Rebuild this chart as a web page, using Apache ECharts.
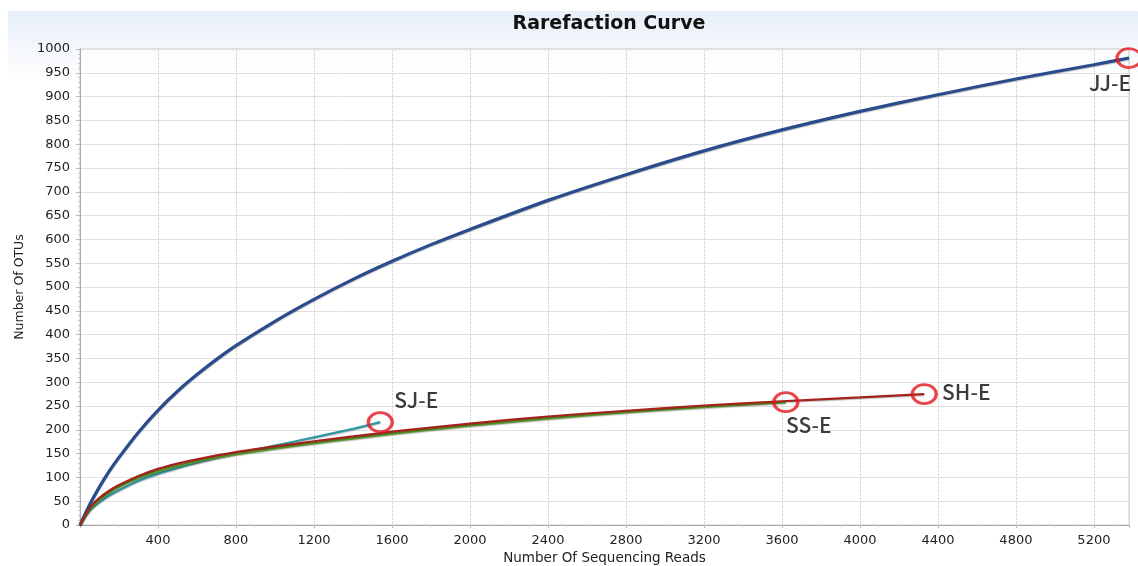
<!DOCTYPE html>
<html>
<head>
<meta charset="utf-8">
<style>
  html, body { margin: 0; padding: 0; background: #ffffff; }
  #chart { width: 1138px; height: 566px; }
</style>
<script src="https://cdn.jsdelivr.net/npm/echarts@6/dist/echarts.min.js"></script>
</head>
<body>
<div id="chart"></div>
<script>
// Rarefaction curves: sequencing reads vs observed OTUs for each sample
const sampleNames = ['JJ-E', 'SJ-E', 'SS-E', 'SH-E'];

const jjReads = [0, 50, 100, 150, 200, 300, 400, 500, 600, 700, 800, 1000, 1200, 1400, 1600, 1800, 2000, 2400, 2800, 3200, 3600, 4000, 4400, 4800, 5200, 5380];
const jjOtus  = [0, 43, 80, 113, 142, 195, 241, 281, 316, 348, 377, 428, 474, 516, 554, 589, 621, 682, 736, 786, 830, 869, 904, 937, 967, 981];

const sjReads = [0, 50, 100, 150, 200, 300, 400, 500, 600, 800, 1000, 1200, 1400, 1540];
const sjOtus  = [0, 30, 48, 62, 73, 93, 108, 120, 131, 150, 167, 184, 202, 216];

const ssReads = [0, 50, 100, 150, 200, 300, 400, 500, 600, 800, 1000, 1200, 1400, 1600, 2000, 2400, 2800, 3200, 3620];
const ssOtus  = [0, 33, 53, 68, 80, 99, 113, 124, 134, 149, 161, 172, 182, 192, 209, 224, 237, 248, 258];

const shReads = [0, 50, 100, 150, 200, 300, 400, 500, 600, 800, 1000, 1200, 1400, 1600, 2000, 2400, 2800, 3200, 3600, 4000, 4330];
const shOtus  = [0, 36, 57, 72, 84, 103, 118, 129, 138, 153, 165, 176, 186, 196, 213, 228, 240, 251, 260, 268, 275];

const xMax = 5380;
const xInterval = 400;
const yMax = 1000;
const yInterval = 50;

const readsBySample = [jjReads, sjReads, ssReads, shReads];
const otusBySample = [jjOtus, sjOtus, ssOtus, shOtus];

// drawing styles per sample
const lineColors = ['#2b4c8c', '#2f98a4', '#5e9e2c', '#a3231b'];
const lineWidths = [3.2, 2.2, 2.6, 2.2];
// where each sample name sits relative to its end marker
const labelOffsets = [[-19, 25], [36, -22], [23, 23], [42, -2]];

const pairs = (xs, ys) => xs.map((x, i) => [x, ys[i]]);

const curveSeries = sampleNames.map((name, i) => ({
  name: name,
  type: 'line',
  data: pairs(readsBySample[i], otusBySample[i]),
  smooth: 0.25,
  showSymbol: false,
  symbol: 'none',
  z: 3 + i,
  lineStyle: {
    color: lineColors[i],
    width: lineWidths[i],
    shadowColor: 'rgba(0,0,0,0.25)',
    shadowBlur: 1,
    shadowOffsetY: 1
  },
  emphasis: { disabled: true }
}));

// red ring at the end of each curve, with the sample name next to it
const endPoints = sampleNames.map((name, i) => {
  const xs = readsBySample[i], ys = otusBySample[i];
  return {
    value: [xs[xs.length - 1], ys[ys.length - 1]],
    name: name,
    label: {
      show: true,
      formatter: name,
      position: 'inside',
      offset: labelOffsets[i],
      color: '#0a0a0a',
      fontFamily: 'Noto Sans CJK KR',
      fontWeight: 500,
      fontSize: 21
    }
  };
});

const markerSeries = {
  type: 'scatter',
  data: endPoints,
  symbol: 'circle',
  symbolSize: [24, 19],
  clip: false,
  z: 10,
  itemStyle: {
    color: 'rgba(255,255,255,0)',
    borderColor: '#e5161d',
    borderWidth: 3
  },
  emphasis: { disabled: true }
};

const plainNumber = v => String(v);

const chart = echarts.init(document.getElementById('chart'), null, { renderer: 'canvas' });

chart.setOption({
  animation: false,
  backgroundColor: '#ffffff',
  graphic: [
    {
      type: 'rect',
      left: 8, top: 11,
      shape: { width: 1130, height: 70 },
      z: -10,
      silent: true,
      style: {
        fill: new echarts.graphic.LinearGradient(0, 0, 0, 1, [
          { offset: 0, color: '#e8eff9' },
          { offset: 1, color: '#ffffff' }
        ])
      }
    }
  ],
  title: {
    text: 'Rarefaction Curve',
    left: 604,
    textAlign: 'center',
    top: 10,
    textStyle: {
      fontFamily: 'DejaVu Sans',
      fontWeight: 'bold',
      fontSize: 19,
      color: '#111'
    }
  },
  grid: {
    left: 80, right: 9, top: 49, bottom: 41,
    outerBoundsMode: 'none',
    containLabel: false,
    show: true,
    borderColor: '#c8c8c8',
    borderWidth: 1,
    backgroundColor: 'rgba(255,255,255,0.6)'
  },
  xAxis: {
    type: 'value',
    min: 0,
    max: xMax,
    interval: xInterval,
    name: 'Number Of Sequencing Reads',
    nameLocation: 'middle',
    nameGap: 25,
    nameTextStyle: { fontFamily: 'DejaVu Sans', fontSize: 13.5, color: '#222' },
    axisLine: { show: true, lineStyle: { color: '#aaa' } },
    axisTick: { show: true, length: 3, lineStyle: { color: '#bbb' } },
    minorTick: { show: true, splitNumber: 4, length: 2, lineStyle: { color: '#c8c8c8' } },
    axisLabel: {
      showMinLabel: false,
      showMaxLabel: false,
      formatter: plainNumber,
      margin: 9,
      fontFamily: 'DejaVu Sans',
      fontSize: 13,
      color: '#222'
    },
    splitLine: { show: true, lineStyle: { color: '#dadada', width: 1, type: [3, 1] } }
  },
  yAxis: {
    type: 'value',
    min: 0,
    max: yMax,
    interval: yInterval,
    name: 'Number Of OTUs',
    nameLocation: 'middle',
    nameGap: 54,
    nameRotate: 90,
    nameTextStyle: { fontFamily: 'DejaVu Sans', fontSize: 12.5, color: '#222' },
    axisLine: { show: true, lineStyle: { color: '#aaa' } },
    axisTick: { show: true, length: 4, lineStyle: { color: '#bbb' } },
    minorTick: { show: true, splitNumber: 5, length: 2, lineStyle: { color: '#c8c8c8' } },
    axisLabel: {
      formatter: plainNumber,
      margin: 10,
      fontFamily: 'DejaVu Sans',
      fontSize: 13,
      color: '#222'
    },
    splitLine: { show: true, lineStyle: { color: '#e0e0e0', width: 1 } }
  },
  series: curveSeries.concat([markerSeries])
});
</script>
</body>
</html>
